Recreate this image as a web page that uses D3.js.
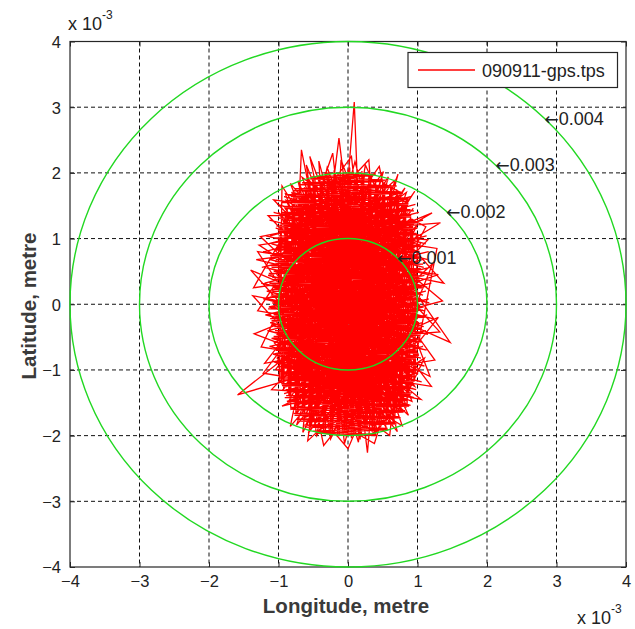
<!DOCTYPE html>
<html><head><meta charset="utf-8">
<script src="https://cdn.jsdelivr.net/npm/d3@7/dist/d3.min.js"></script>
<style>body{margin:0;background:#fff}svg{display:block}text{font-family:"Liberation Sans",Arial,sans-serif}</style>
</head><body><svg id="c" width="635" height="629"></svg>
<script>
// values in units of 10^-3 metre
const lonTicks = [-4,-3,-2,-1,0,1,2,3,4];
const latTicks = [-4,-3,-2,-1,0,1,2,3,4];
const ringRadii = [1,2,3,4];
const ringLabels = ["0.001","0.002","0.003","0.004"];
const seriesName = "090911-gps.tps";
const track = [
[-0.12,0.35],[0.71,-1.12],[-0.58,1.47],[0.33,-1.71],[-0.91,0.22],[0.88,0.61],[-0.27,-1.54],[0.15,1.82],[-0.76,-0.93],[0.94,-0.18],
[-0.43,1.69],[0.52,-1.38],[-1.02,-0.35],[0.61,1.29],[-0.18,-1.88],[0.79,0.98],[-0.84,1.05],[0.22,-0.47],[-0.65,-1.41],[0.97,0.27],
[-0.36,1.91],[0.44,-1.83],[-0.99,0.58],[0.68,-0.79],[-0.09,1.58],[0.86,-1.02],[-0.71,-0.28],[0.29,1.76],[-0.53,-1.77],[0.91,1.12],
[-0.95,-0.66],[0.38,0.84],[-0.22,-1.21],[0.74,1.51],[-0.88,1.33],[0.57,-1.59],[-0.41,0.12],[1.01,-0.47],[-0.63,1.78],[0.11,-1.95],
[-1.05,0.03],[0.83,0.16],[-0.31,-0.84],[0.47,1.87],[-0.78,-1.22],[0.95,0.83],[-0.14,1.27],[0.63,-1.21],[-0.92,0.91],[0.26,-1.58],
[-0.55,0.44],[0.89,-0.71],[-0.47,-1.62],[0.19,1.49],[-0.83,-0.12],[0.72,1.68],[-0.05,-1.39],[0.98,-0.09],[-0.69,1.22],[0.36,-0.98],
[-0.97,-0.95],[0.54,0.41],[-0.24,1.85],[0.81,-1.36],[-0.61,-0.59],[0.07,0.94],[-0.89,1.58],[0.66,-1.79],[-0.38,-0.21],[1.03,0.55],
[-0.74,-1.66],[0.24,1.96],[-1.01,0.71],[0.59,-0.32],[-0.16,-1.72],[0.85,1.39],[-0.52,0.87],[0.41,-1.49],[-0.93,-0.48],[0.76,0.07],
[-0.29,1.62],[0.12,-1.14],[-0.81,1.71],[0.93,-1.19],[-0.44,-1.93],[0.31,1.15],[-1.04,-0.21],[0.69,0.94],[-0.11,-0.63],[0.87,1.63],
[-0.67,-1.09],[0.49,1.71],[-0.86,0.37],[0.16,-1.81],[-0.57,1.91],[0.99,-0.58],[-0.33,-1.35],[0.62,0.73],[-0.96,1.17],[0.34,-1.65],
[-0.78,1.7],[0.95,1.1],[-0.92,1.64],[1.06,1.04],[-0.84,1.58],[0.9,0.98],[-1.02,1.52],[1.12,0.92],[-0.86,1.46],[0.96,0.86],
[-1.07,1.4],[1.03,0.8],[-0.9,1.34],[0.92,0.74],[-1.13,1.28],[1.15,0.68],[-0.95,1.22],[1.0,0.62],[-1.04,1.16],[1.09,0.56],
[-0.92,1.1],[0.94,0.5],[-1.18,1.04],[1.2,0.44],[-1.0,0.98],[1.03,0.38],[-1.1,0.92],[0.96,0.32],[-0.94,0.86],[1.14,0.26],
[-1.22,0.8],[1.01,0.2],[-1.03,0.74],[1.08,0.14],[-1.12,0.68],[0.95,0.08],[-0.98,0.62],[1.17,0.02],[-1.2,0.56],[1.04,-0.04],
[-1.06,0.5],[1.1,-0.1],[-1.15,0.44],[0.97,-0.16],[-1.0,0.38],[1.22,-0.22],[-1.25,0.32],[1.02,-0.28],[-1.08,0.26],[1.09,-0.34],
[-1.17,0.2],[0.96,-0.4],[-1.03,0.14],[1.15,-0.46],[-1.21,0.08],[1.0,-0.52],[-1.09,0.02],[1.07,-0.58],[-1.14,-0.04],[0.94,-0.64],
[-1.0,-0.1],[1.13,-0.7],[-1.19,-0.16],[0.98,-0.76],[-1.05,-0.22],[1.05,-0.82],[-1.12,-0.28],[0.92,-0.88],[-0.99,-0.34],[1.1,-0.94],
[-1.16,-0.4],[0.95,-1.0],[-1.03,-0.46],[1.01,-1.06],[-1.1,-0.52],[0.9,-1.12],[-0.97,-0.58],[1.06,-1.18],[-1.13,-0.64],[0.92,-1.24],
[-1.0,-0.7],[0.98,-1.3],[-1.08,-0.76],[0.86,-1.36],[-0.95,-0.82],[0.95,-1.42],[-1.06,-0.88],[0.82,-1.48],[-0.93,-0.94],[0.9,-1.54],
[-1.02,-1.0],[0.77,-1.6],
[-0.33,2.0],[0.36,1.96],[-0.55,1.91],[0.49,1.87],[-0.7,1.82],[0.6,1.78],[-0.79,1.73],[0.79,1.69],[-0.82,1.64],[0.85,1.6],
[-0.95,1.55],[0.84,1.51],[-0.9,1.46],[0.95,1.42],[-0.99,1.37],[0.89,1.33],[-0.94,1.28],[1.0,1.24],[-1.03,1.19],[0.93,1.15],
[-0.97,1.1],[0.99,1.06],[-1.06,1.01],[0.95,0.97],[-1.0,0.92],[1.05,0.88],[-1.04,0.83],[0.98,0.79],[-1.12,0.74],[1.02,0.7],
[-1.05,0.65],[1.08,0.61],[-1.1,0.56],[1.0,0.52],[-1.14,0.47],[1.06,0.43],[-1.07,0.38],[1.03,0.34],[-1.16,0.29],[1.09,0.25],
[-1.09,0.2],[1.02,0.16],[-1.12,0.11],[1.07,0.07],[-1.08,0.02],[1.04,-0.02],[-1.15,-0.07],[1.01,-0.11],[-1.07,-0.16],[1.1,-0.2],
[-1.1,-0.25],[1.0,-0.29],[-1.06,-0.34],[1.05,-0.38],[-1.03,-0.43],[0.99,-0.47],[-1.09,-0.52],[1.03,-0.56],[-1.0,-0.61],[0.97,-0.65],
[-1.04,-0.7],[1.01,-0.74],[-0.98,-0.79],[0.95,-0.83],[-1.01,-0.88],[0.99,-0.92],[-0.95,-0.97],[0.93,-1.01],[-0.99,-1.06],[0.97,-1.1],
[-0.92,-1.15],[0.9,-1.19],[-0.95,-1.24],[0.94,-1.28],[-0.88,-1.33],[0.89,-1.37],[-0.91,-1.42],[0.85,-1.46],[-0.84,-1.51],[0.88,-1.55],
[-0.8,-1.6],[0.8,-1.64],[-0.77,-1.69],[0.76,-1.73],[-0.69,-1.78],[0.7,-1.82],[-0.6,-1.87],[0.58,-1.91],[-0.45,-1.96],[0.4,-2.0],
[-0.02,1.62],[0.09,3.08],[0.14,1.71],[-0.25,1.52],[-0.13,2.53],[-0.03,1.66],[-0.71,1.42],[-0.67,2.35],[-0.52,1.55],[-0.6,2.12],
[-0.44,1.7],[-0.55,2.25],[-0.37,1.75],[-0.3,2.08],[-0.2,1.8],[0.35,1.78],[0.51,2.02],[0.42,1.72],[0.25,2.12],[0.2,1.8],
[0.1,2.17],[0.02,1.85],[-0.1,2.2],[-0.12,1.8],[0.65,1.7],[0.72,1.98],[0.6,1.65],[0.85,1.55],[0.96,1.72],[0.8,1.45],
[-1.0,0.9],[-0.95,-1.2],[-0.9,1.42],[-0.85,-1.4],[-0.8,1.52],[-0.75,-1.66],[-0.7,1.76],[-0.65,-1.68],[-0.6,1.74],[-0.55,-1.88],
[-0.5,1.92],[-0.45,-1.8],[-0.4,1.86],[-0.35,-1.97],[-0.3,1.99],[-0.25,-1.9],[-0.2,2.04],[-0.15,-2.02],[-0.1,1.93],[-0.05,-1.94],
[0.0,2.05],[0.05,-2.04],[0.1,1.9],[0.15,-1.99],[0.2,2.03],[0.25,-1.88],[0.3,1.96],[0.35,-1.95],[0.4,1.84],[0.45,-1.92],
[0.5,1.9],[0.55,-1.78],[0.6,1.72],[0.65,-1.8],[0.7,1.75],[0.75,-1.6],[0.8,1.52],[0.85,-1.55],[0.9,1.36],[0.95,-1.18],[1.0,1.05],
[-0.49,-0.72],[0.82,1.77],[-0.07,0.51],[0.55,-1.88],[-0.79,0.64],[0.97,1.01],[-0.62,-1.87],[0.28,0.19],[-0.98,-1.13],[0.73,-0.44],
[-0.21,1.74],[0.46,-1.08],[-0.87,-0.78],[0.92,0.39],[-0.39,1.39],[0.09,-1.63],[-0.72,1.88],[0.64,-1.43],[-1.03,0.46],[0.43,1.58],
[-0.26,-1.97],[0.89,-0.86],[-0.59,1.03],[0.18,0.68],[-0.94,-1.31],[0.78,1.24],[-0.13,-1.06],[0.58,1.94],[-0.82,-0.46],[1.02,-0.31],
[-0.46,1.81],[0.27,-1.92],[-1.06,-0.59],[0.71,0.47],[-0.03,1.71],[0.84,-1.57],[-0.68,0.19],[0.39,-0.66],[-0.91,1.47],[0.52,1.09],
[1.21,1.39],[0.9,1.2],[1.33,1.24],[0.95,1.0],[1.15,0.98],[0.98,0.8],[1.38,0.32],[1.0,0.4],[1.22,0.62],[1.02,0.1],
[1.47,-0.58],[0.98,-0.35],[1.3,-0.2],[1.0,-0.6],[1.18,-1.1],[0.9,-0.95],[1.1,-0.82],[0.88,-1.3],[1.05,-1.45],[0.8,-1.4],
[0.38,-1.98],[-0.5,-1.93],[0.57,-1.89],[-0.63,-1.84],[0.68,-1.8],[-0.74,-1.75],[0.73,-1.71],[-0.78,-1.66],[0.82,-1.62],[-0.83,-1.57],
[0.84,-1.53],[-0.87,-1.48],[0.86,-1.44],[-0.89,-1.39],[0.92,-1.35],[-0.9,-1.3],[0.9,-1.26],[-0.96,-1.21],[0.95,-1.17],[-0.94,-1.12],
[0.93,-1.08],[-0.98,-1.03],[0.97,-0.99],[-0.97,-0.94],[0.95,-0.9],[-1.02,-0.85],[0.99,-0.81],[-1.0,-0.76],[0.97,-0.72],[-1.05,-0.67],
[1.02,-0.63],[-1.02,-0.58],[0.98,-0.54],[-1.07,-0.49],[1.02,-0.45],[-1.05,-0.4],[1.06,-0.36],[-1.09,-0.31],[1.01,-0.27],[-1.12,-0.22],
[1.04,-0.18],[-1.08,-0.13],[1.08,-0.09],[-1.13,-0.04],[1.03,0.0],[-1.1,0.05],[1.05,0.09],[-1.11,0.14],[1.01,0.18],[-1.07,0.23],
[1.06,0.27],[-1.13,0.32],[1.04,0.36],[-1.09,0.41],[1.0,0.45],[-1.06,0.5],[1.05,0.54],[-1.11,0.59],[1.01,0.63],[-1.04,0.68],
[1.04,0.72],[-1.08,0.77],[0.98,0.81],[-1.02,0.86],[1.01,0.9],[-1.05,0.95],[0.96,0.99],[-1.0,1.04],[0.99,1.08],[-1.01,1.13],
[0.94,1.17],[-0.97,1.22],[0.97,1.26],[-1.0,1.31],[0.91,1.35],[-0.95,1.4],[0.9,1.44],[-0.93,1.49],[0.87,1.53],[-0.88,1.58],
[0.84,1.62],[-0.86,1.67],[0.76,1.71],[-0.77,1.76],[0.7,1.8],[-0.66,1.85],[0.58,1.89],[-0.52,1.94],[0.4,1.98],
[-0.4,1.85],[-0.42,2.18],[-0.35,1.9],[-0.22,2.3],[-0.18,1.92],[0.05,2.25],[0.08,1.95],[0.3,2.2],[0.32,1.9],[0.45,2.1],[0.5,1.85],
[0.76,1.7],[-1.0,1.1],[0.9,1.64],[-1.12,1.04],[0.8,1.58],[-0.96,0.98],[0.97,1.52],[-1.15,0.92],[0.85,1.46],[-1.02,0.86],
[1.02,1.4],[-1.2,0.8],[0.88,1.34],[-1.05,0.74],[1.08,1.28],[-1.13,0.68],[0.93,1.22],[-1.0,0.62],[1.0,1.16],[-1.24,0.56],
[0.9,1.1],[-1.07,0.5],[1.13,1.04],[-1.15,0.44],[0.97,0.98],[-1.02,0.38],[1.05,0.92],[-1.2,0.32],[0.93,0.86],[-1.08,0.26],
[1.16,0.8],[-1.16,0.2],[1.0,0.74],[-1.01,0.14],[1.07,0.68],[-1.22,0.08],[0.95,0.62],[-1.06,0.02],[1.18,0.56],[-1.13,-0.04],
[1.02,0.5],[-1.0,-0.1],[1.1,0.44],[-1.18,-0.16],[0.97,0.38],[-1.04,-0.22],[1.2,0.32],[-1.11,-0.28],[1.03,0.26],[-0.98,-0.34],
[1.12,0.2],[-1.15,-0.4],[0.98,0.14],[-1.02,-0.46],[1.16,0.08],[-1.09,-0.52],[1.01,0.02],[-0.96,-0.58],[1.09,-0.04],[-1.12,-0.64],
[0.96,-0.1],[-0.99,-0.7],[1.14,-0.16],[-1.07,-0.76],[1.0,-0.22],[-0.94,-0.82],[1.07,-0.28],[-1.05,-0.88],[0.94,-0.34],[-0.92,-0.94],
[1.12,-0.4],[-1.01,-1.0],[0.99,-0.46],[-0.9,-1.06],[1.04,-0.52],[-0.98,-1.12],[0.92,-0.58],[-0.87,-1.18],[1.08,-0.64],[-0.95,-1.24],
[0.96,-0.7],[-0.84,-1.3],[1.02,-0.76],[-0.92,-1.36],[0.9,-0.82],[-0.8,-1.42],[0.98,-0.88],[-0.88,-1.48],[0.87,-0.94],[-0.76,-1.54],
[0.94,-1.0],[-0.82,-1.6],
[-1.0,0.6],[-1.32,0.68],[-1.02,0.72],[-1.28,0.9],[-0.98,0.95],[-1.36,0.25],[-1.05,0.3],[-1.3,-0.1],[-1.02,-0.15],[-1.25,-0.65],
[-0.97,-0.7],[-1.22,-1.05],[-0.92,-1.1],[-1.1,-1.3],[-0.85,-1.32],
[-0.35,-1.47],[0.96,0.71],[-0.75,-1.51],[0.14,1.91],[-0.58,-0.07],[0.81,-0.97],[-0.19,1.12],[0.67,-1.73],[-1.0,0.84],[0.32,1.36],
[-0.42,-1.81],[0.94,-0.31],[-0.85,1.24],[0.21,-1.27],[-0.64,1.63],[0.75,0.29],[-0.28,-0.98],[0.51,-1.67],[-0.97,0.12],[0.86,1.52],
[-0.51,-1.27],[0.05,1.86],[-0.88,-1.02],[0.69,-1.29],[-0.17,0.83],[0.98,0.93],[-0.73,1.49],[0.37,-1.85],[-1.02,-0.82],[0.61,1.81],
[0.7,-1.6],[0.78,-1.85],[0.55,-1.7],[0.42,-1.91],[0.33,-1.62],[0.28,-2.26],[0.2,-1.55],[0.15,-2.1],[0.05,-1.75],[-0.05,-2.12],
[-0.1,-1.7],[-0.25,-2.05],[-0.3,-1.7],[-0.45,-2.0],[-0.5,-1.65],[-0.65,-1.95],[-0.62,-1.6],[-0.83,-1.86],[-0.75,-1.45],[-0.95,-1.55],
[0.975,-1.05],[0.925,1.3],[0.875,-1.42],[0.825,1.58],[0.775,-1.55],[0.725,1.66],[0.675,-1.74],[0.625,1.79],[0.575,-1.72],[0.525,1.86],
[0.475,-1.86],[0.425,1.82],[0.375,-1.92],[0.325,1.95],[0.275,-1.9],[0.225,1.98],[0.175,-2.06],[0.125,1.95],[0.075,-1.96],[0.025,2.08],
[-0.025,-1.95],[-0.075,1.98],[-0.125,-2.0],[-0.175,1.94],[-0.225,-1.92],[-0.275,2.0],[-0.325,-1.96],[-0.375,1.88],[-0.425,-1.84],[-0.475,1.93],
[-0.525,-1.8],[-0.575,1.85],[-0.625,-1.76],[-0.675,1.7],[-0.725,-1.62],[-0.775,1.66],[-0.825,-1.5],[-0.875,1.48],[-0.925,-1.32],[-0.975,1.2],
[1.0,0.5],[1.3,0.45],[1.02,0.35],[1.36,0.05],[1.0,-0.05],[1.32,-0.42],[0.98,-0.45],[1.25,-0.85],[0.95,-0.9],[1.2,-1.25],
[0.9,-1.2],[1.28,0.85],[0.98,0.9],[1.12,1.18],[0.9,1.3],
[-0.32,0.28],[0.88,-1.11],[-0.61,-1.72],[0.23,1.63],[-0.95,0.51],[0.46,-0.39],[-0.08,-1.89],[0.79,1.46],[-0.77,0.99],[0.57,-0.93],
[-0.45,1.96],[0.92,-0.64],[-0.66,-0.38],[0.13,-1.53],[-0.9,1.68],[0.7,1.12],[-0.23,-1.63],[1.0,0.14],[-0.54,1.31],[0.35,-1.23],
[-0.85,-1.15],[-1.59,-1.38],[-0.95,-0.85],[-1.2,-0.9],[-0.98,-0.6],[-1.35,-0.45],[-1.0,-0.3],[-1.37,0.13],[-1.0,0.05],[-1.4,0.52],
[-1.02,0.35],[-1.3,0.8],[-0.98,0.75],[-1.26,1.03],[-0.92,1.1],[-1.15,1.35],[-0.85,1.35],[-1.07,1.59],[-0.8,1.55],[-0.95,1.8],
[-0.99,-1.19],[0.83,0.86],[-0.37,1.77],[0.48,-1.76],[-0.8,0.31],[0.6,1.55],[-0.15,-0.38],[0.9,-1.38],[-0.7,-0.87],[0.25,1.29],
[-0.55,-1.85],[-0.58,-2.08],[-0.4,-1.9],[-0.35,-2.15],[-0.2,-1.95],[0.0,-2.2],[0.1,-1.95],[0.38,-2.12],[0.45,-1.88],[0.6,-2.0],[0.62,-1.8],
[0.17,-0.91],[-0.62,0.72],[0.93,1.28],[-0.48,-1.55],[0.3,0.55],[-0.92,-0.27],[0.76,-1.63],[-0.2,1.44],[0.59,0.02],[-0.83,1.84],
[0.4,-1.37],[-1.0,0.98],[0.85,-0.52],[-0.34,-1.78],[0.08,1.33],[-0.69,-0.64],[0.99,1.2],[-0.12,-1.25],[0.53,1.67],[-0.9,0.06],
[0.66,-1.01],[-0.4,0.96],[0.2,-1.99],[-0.78,1.31],[0.95,-0.91],[-0.56,-1.16],[0.31,1.84],[-1.01,-0.44],[0.72,0.63],[-0.18,1.97],
[0.44,-0.76],[-0.86,-1.49],[0.63,1.37],[-0.3,-0.53],[0.87,-1.69],[-0.6,1.68],[0.1,-0.2],[-0.96,0.69],[0.74,-1.24],[-0.25,1.04],
[0.97,0.48],[-0.74,-1.84],[0.27,1.52],[-0.5,0.18],[0.81,-0.16],[-0.06,-1.6],[0.56,0.9],[-0.93,1.26],[0.37,-1.55],[-0.65,-0.99],
[1.01,-0.78],[-0.39,1.6],[0.14,-1.43],[-0.8,0.49],[0.68,1.89],[-0.22,-0.77],[0.9,0.2],[-0.57,-1.96],[0.35,0.97],[-1.04,-0.99],
[0.62,-1.51],[-0.1,1.79],[0.83,-0.41],[-0.71,0.83],[0.21,-1.73],[-0.44,-0.3],[0.94,1.46],[-0.84,-0.68],[0.45,0.26],[-0.27,1.88],
[0.71,-1.94],[-0.97,0.28],[0.5,1.42],[-0.14,-1.17],[0.88,0.75],[-0.66,1.93],[0.3,-0.57],[-0.89,-1.26],[0.78,1.03],[-0.35,-1.66],
[0.03,1.18],[-0.76,-0.16],[0.96,-1.25],[-0.52,1.48],[0.26,-0.88],[-1.0,1.4],[0.65,-0.6],[-0.2,-1.42],[0.84,1.7],[-0.63,0.6],
[0.4,-1.99],[-0.94,-0.6],[0.58,0.12],[-0.08,1.46],[0.92,-1.48],[-0.47,-0.88],[0.18,1.7],[-0.82,1.12],[0.73,-0.25],[-0.31,-1.87]
];

const svg = d3.select("#c");
const L = 70, R = 626, T = 41.5, B = 567;
const x = d3.scaleLinear().domain([-4,4]).range([L,R]);
const y = d3.scaleLinear().domain([-4,4]).range([B,T]);
const axisCol = "#262626", textCol = "#222";
const FF = '"Liberation Sans",Arial,sans-serif';

// grid
const grid = svg.append("g");
grid.selectAll("line.gx").data(lonTicks.slice(1,-1)).join("line").attr("class","gx")
  .attr("x1", d=>x(d)).attr("x2", d=>x(d)).attr("y1", T).attr("y2", B);
grid.selectAll("line.gy").data(latTicks.slice(1,-1)).join("line").attr("class","gy")
  .attr("y1", d=>y(d)).attr("y2", d=>y(d)).attr("x1", L).attr("x2", R);
grid.selectAll("line").attr("stroke","#111").attr("stroke-width",1).attr("stroke-dasharray","4,3");

// track
svg.append("path").datum(track)
  .attr("d", d3.line().x(d=>x(d[0])).y(d=>y(d[1])))
  .attr("fill","none").attr("stroke","#ff0000").attr("stroke-width",1.3).attr("stroke-linejoin","miter");

// axes box
svg.append("rect").attr("x",L).attr("y",T).attr("width",R-L).attr("height",B-T)
  .attr("fill","none").attr("stroke",axisCol).attr("stroke-width",1.2);

// axes via d3
const xb = svg.append("g").attr("transform",`translate(0,${B})`)
  .call(d3.axisBottom(x).tickValues(lonTicks).tickSize(-5).tickPadding(8).tickFormat(d3.format("d")));
const xt = svg.append("g").attr("transform",`translate(0,${T})`)
  .call(d3.axisTop(x).tickValues(lonTicks).tickSize(-5).tickFormat(""));
const yl = svg.append("g").attr("transform",`translate(${L},0)`)
  .call(d3.axisLeft(y).tickValues(latTicks).tickSize(-5).tickPadding(9).tickFormat(d3.format("d")));
const yr = svg.append("g").attr("transform",`translate(${R},0)`)
  .call(d3.axisRight(y).tickValues(latTicks).tickSize(-5).tickFormat(""));
[xb,xt,yl,yr].forEach(a=>{
  a.select(".domain").remove();
  a.selectAll(".tick line").attr("stroke",axisCol);
  a.selectAll("text").attr("fill",textCol).style("font-size","16.5px").style("font-family",FF);
});
yl.selectAll(".tick text").attr("dy","0.36em");
xb.selectAll(".tick text").attr("dy","0.75em");

// rings
svg.selectAll("ellipse.ring").data(ringRadii).join("ellipse").attr("class","ring")
  .attr("cx", x(0)).attr("cy", y(0))
  .attr("rx", d=>x(d)-x(0)).attr("ry", d=>y(0)-y(d))
  .attr("fill","none").attr("stroke","#22d822").attr("stroke-width",1.4);

// ring labels
const rl = svg.selectAll("text.rl").data(ringRadii).join("text").attr("class","rl")
  .attr("x", d=>x(d*Math.SQRT1_2)).attr("y", d=>y(d*Math.SQRT1_2))
  .attr("dy","0.36em").attr("fill",textCol).style("font-size","18px");
rl.append("tspan").style("font-family","DejaVu Sans").style("font-size","17px").text("\u2190");
rl.append("tspan").text((d,i)=>ringLabels[i]);

// legend
svg.append("rect").attr("x",408).attr("y",52.5).attr("width",209.5).attr("height",35)
  .attr("fill","#fff").attr("stroke",axisCol).attr("stroke-width",1.2);
svg.append("line").attr("x1",418).attr("x2",475).attr("y1",70).attr("y2",70)
  .style("stroke","#ff0000").style("stroke-width","1.4px");
svg.append("text").attr("x",482).attr("y",76.5).attr("fill",textCol).style("font-size","18px").text(seriesName);

// exponent labels
function expo(xp, yp){
  const t = svg.append("text").attr("x",xp).attr("y",yp).attr("fill",textCol).style("font-size","18px");
  t.append("tspan").text("x 10");
  t.append("tspan").attr("dy",-11).style("font-size","12px").text("-3");
}
expo(68, 30);
expo(577, 624);

// axis titles
svg.append("text").attr("x",346).attr("y",613).attr("text-anchor","middle")
  .attr("fill","#3a3a3a").style("font-size","20.5px").style("font-weight","bold").text("Longitude, metre");
svg.append("text").attr("transform","translate(36,306) rotate(-90)").attr("text-anchor","middle")
  .attr("fill","#3a3a3a").style("font-size","20.5px").style("font-weight","bold").text("Latitude, metre");
</script></body></html>
